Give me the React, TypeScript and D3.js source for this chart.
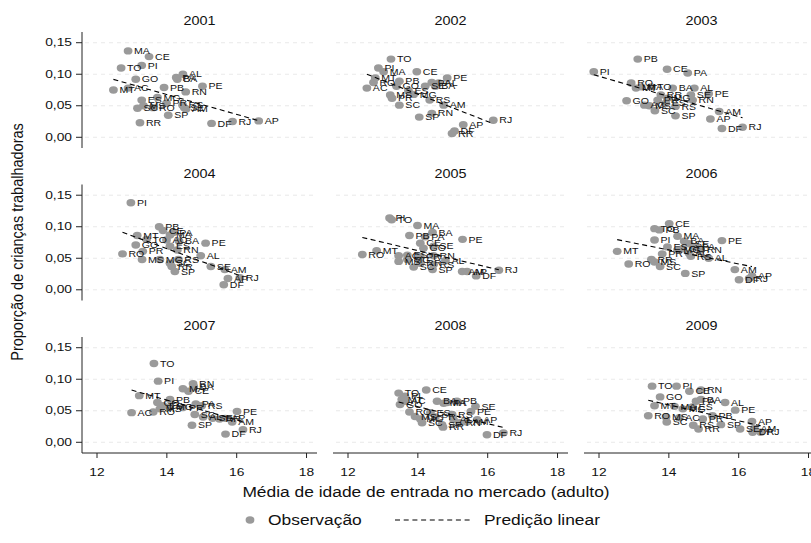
import React from 'react';
import * as d3 from 'd3';

const states = ['AC', 'AL', 'AP', 'AM', 'BA', 'CE', 'DF', 'ES', 'GO', 'MA', 'MT', 'MS', 'MG', 'PA',
  'PB', 'PR', 'PE', 'PI', 'RJ', 'RN', 'RS', 'RO', 'RR', 'SC', 'SP', 'SE', 'TO'];

const years = [2001, 2002, 2003, 2004, 2005, 2006, 2007, 2008, 2009];

// average age of entry (x) and share of working children (y), in state order
const x2001 = [12.89, 14.46, 16.63, 14.55, 14.30, 13.49, 15.28, 13.28, 13.11, 12.89, 12.47, 13.33, 13.73, 14.27, 13.92, 13.99, 15.02, 13.28, 15.88, 14.54, 14.45, 13.60, 13.23, 13.16, 14.04, 14.50, 12.69];
const y2001 = [0.078, 0.100, 0.026, 0.045, 0.092, 0.128, 0.022, 0.059, 0.092, 0.137, 0.075, 0.050, 0.063, 0.095, 0.079, 0.054, 0.081, 0.114, 0.025, 0.072, 0.051, 0.047, 0.023, 0.046, 0.035, 0.047, 0.110];
const x2002 = [12.54, 14.60, 15.30, 14.74, 14.50, 13.97, 15.05, 13.73, 13.39, 13.02, 12.78, 13.21, 13.88, 14.40, 13.47, 13.26, 14.84, 12.87, 16.16, 14.40, 14.34, 12.73, 14.98, 13.47, 14.04, 14.21, 13.23];
const y2002 = [0.078, 0.086, 0.020, 0.051, 0.081, 0.104, 0.010, 0.074, 0.081, 0.104, 0.094, 0.067, 0.068, 0.087, 0.089, 0.062, 0.094, 0.110, 0.027, 0.038, 0.059, 0.087, 0.006, 0.051, 0.032, 0.081, 0.124];
const x2003 = [13.30, 14.73, 15.19, 15.44, 14.11, 13.95, 15.52, 13.91, 12.79, 13.21, 13.06, 13.44, 13.96, 14.54, 13.11, 13.68, 15.14, 11.85, 16.11, 14.68, 14.19, 12.92, 13.77, 13.60, 14.19, 14.63, 13.49];
const y2003 = [0.051, 0.078, 0.029, 0.041, 0.078, 0.108, 0.014, 0.054, 0.058, 0.080, 0.078, 0.050, 0.062, 0.102, 0.124, 0.059, 0.069, 0.104, 0.016, 0.059, 0.049, 0.086, 0.067, 0.042, 0.034, 0.067, 0.080];
const x2004 = [13.99, 14.97, 15.75, 15.66, 14.35, 13.89, 15.63, 14.09, 13.11, 14.09, 13.15, 13.29, 13.80, 14.18, 13.78, 13.31, 15.11, 12.97, 16.09, 14.30, 14.33, 12.73, 14.14, 14.09, 14.23, 15.26, 13.42];
const y2004 = [0.079, 0.054, 0.018, 0.032, 0.077, 0.094, 0.008, 0.069, 0.071, 0.087, 0.086, 0.048, 0.048, 0.091, 0.100, 0.061, 0.074, 0.138, 0.019, 0.063, 0.048, 0.057, 0.037, 0.042, 0.029, 0.037, 0.080];
const x2005 = [13.45, 14.79, 15.41, 15.27, 14.42, 14.07, 15.67, 13.70, 14.16, 13.99, 12.82, 13.45, 13.70, 14.21, 13.76, 14.07, 15.28, 13.19, 16.32, 14.45, 14.45, 12.41, 14.07, 13.88, 14.42, 14.45, 13.25];
const y2005 = [0.054, 0.046, 0.029, 0.029, 0.091, 0.074, 0.022, 0.055, 0.066, 0.102, 0.062, 0.045, 0.048, 0.084, 0.086, 0.053, 0.080, 0.114, 0.031, 0.054, 0.040, 0.056, 0.042, 0.036, 0.032, 0.069, 0.111];
const x2006 = [14.58, 15.14, 16.38, 15.89, 14.44, 14.01, 16.01, 13.96, 14.39, 14.25, 12.52, 13.59, 14.25, 14.77, 13.73, 13.81, 15.52, 13.59, 16.30, 14.91, 14.63, 12.85, 13.50, 13.75, 14.47, 14.58, 13.59];
const y2006 = [0.058, 0.050, 0.022, 0.032, 0.077, 0.105, 0.016, 0.068, 0.065, 0.085, 0.061, 0.044, 0.063, 0.068, 0.095, 0.057, 0.078, 0.079, 0.018, 0.063, 0.053, 0.041, 0.048, 0.037, 0.026, 0.073, 0.097];
const x2007 = [12.99, 15.04, 15.67, 15.87, 14.77, 14.62, 15.68, 13.89, 13.73, 14.46, 13.21, 13.80, 14.09, 14.83, 14.09, 14.46, 16.01, 13.75, 16.18, 14.75, 15.00, 13.61, 15.51, 14.80, 14.72, 15.31, 13.63];
const y2007 = [0.047, 0.040, 0.038, 0.032, 0.088, 0.081, 0.013, 0.058, 0.063, 0.085, 0.074, 0.053, 0.056, 0.061, 0.068, 0.055, 0.049, 0.097, 0.020, 0.093, 0.058, 0.048, 0.037, 0.044, 0.027, 0.038, 0.125];
const x2008 = [13.63, 15.02, 15.70, 15.40, 14.55, 14.24, 15.98, 14.36, 13.49, 14.74, 13.54, 13.92, 14.07, 14.84, 15.12, 14.50, 15.52, 13.63, 16.45, 15.20, 14.98, 13.76, 14.72, 14.12, 14.69, 15.65, 13.45];
const y2008 = [0.065, 0.036, 0.036, 0.032, 0.065, 0.083, 0.012, 0.047, 0.060, 0.062, 0.068, 0.041, 0.037, 0.063, 0.065, 0.040, 0.049, 0.073, 0.015, 0.031, 0.044, 0.048, 0.024, 0.031, 0.028, 0.057, 0.078];
const x2009 = [14.30, 15.61, 16.38, 16.45, 14.92, 14.59, 16.40, 14.68, 13.75, 14.16, 13.59, 13.92, 14.40, 14.78, 15.25, 14.97, 15.90, 14.22, 16.63, 14.92, 14.70, 13.41, 14.85, 13.94, 15.49, 16.04, 13.52];
const y2009 = [0.039, 0.063, 0.033, 0.022, 0.068, 0.081, 0.016, 0.056, 0.072, 0.057, 0.058, 0.040, 0.053, 0.065, 0.042, 0.037, 0.051, 0.089, 0.016, 0.083, 0.027, 0.042, 0.021, 0.032, 0.028, 0.021, 0.089];

const xTicks = [12, 14, 16, 18];
const yTicks = [0, 0.05, 0.1, 0.15];

const xs = [x2001, x2002, x2003, x2004, x2005, x2006, x2007, x2008, x2009];
const ys = [y2001, y2002, y2003, y2004, y2005, y2006, y2007, y2008, y2009];

const width = 811;
const height = 543;
const colLeft = [82, 333, 584];
const rowTop = [32, 184.5, 337];
const panelW = 235;
const panelH = 116;
const font = '"Liberation Sans", Arial, Helvetica, sans-serif';
const SX = 1.2; // text in the picture is horizontally stretched
const pointColor = '#9a9a9a';

const fmt = (v: number) => d3.format('.2f')(v).replace('.', ',');

const T = ({ x, y, size, anchor = 'start', baseline, children }: any) => (
  <text
    transform={`translate(${x},${y}) scale(${SX},1)`}
    fontSize={size}
    textAnchor={anchor}
    dominantBaseline={baseline}
    fill="#111"
  >
    {children}
  </text>
);

function fit(px: number[], py: number[]) {
  const mx = d3.mean(px)!;
  const my = d3.mean(py)!;
  let sxy = 0;
  let sxx = 0;
  px.forEach((v, i) => {
    sxy += (v - mx) * (py[i] - my);
    sxx += (v - mx) * (v - mx);
  });
  const b = sxy / sxx;
  const a = my - b * mx;
  const [lo, hi] = d3.extent(px) as [number, number];
  return [[lo, a + b * lo], [hi, a + b * hi]];
}

const Panel = ({ idx }: { idx: number }) => {
  const col = idx % 3;
  const row = Math.floor(idx / 3);
  const left = colLeft[col];
  const top = rowTop[row];
  const x = d3.scaleLinear().domain([11.57, 18.3]).range([left, left + panelW]);
  const y = d3.scaleLinear().domain([-0.017, 0.167]).range([top + panelH, top]);
  const px = xs[idx];
  const py = ys[idx];
  const line = d3.line<number[]>().x(d => x(d[0])).y(d => y(d[1]));

  return (
    <g>
      <T x={left + panelW / 2} y={top - 7} size={12} anchor="middle">{years[idx]}</T>
      {yTicks.map(t => (
        <line key={t} x1={left + 3} x2={left + panelW} y1={y(t)} y2={y(t)}
          stroke="#e3e3e3" strokeWidth={0.8} strokeDasharray="4,4" />
      ))}
      {col === 0 && (
        <g>
          <line x1={left} x2={left} y1={top} y2={top + panelH} stroke="#222" />
          {yTicks.map(t => (
            <g key={t}>
              <line x1={left - 6} x2={left} y1={y(t)} y2={y(t)} stroke="#222" />
              <T x={left - 10} y={y(t)} size={11.5} anchor="end" baseline="central">{fmt(t)}</T>
            </g>
          ))}
        </g>
      )}
      {row === 2 && (
        <g>
          <line x1={left} x2={left + panelW} y1={top + panelH} y2={top + panelH} stroke="#222" />
          {xTicks.map(t => (
            <g key={t}>
              <line x1={x(t)} x2={x(t)} y1={top + panelH} y2={top + panelH + 5} stroke="#222" />
              <T x={x(t)} y={top + panelH + 23} size={11.5} anchor="middle">{t}</T>
            </g>
          ))}
        </g>
      )}
      {states.map((s, i) => (
        <ellipse key={s} cx={x(px[i])} cy={y(py[i])} rx={4.4} ry={3.7} fill={pointColor} />
      ))}
      {states.map((s, i) => (
        <T key={s} x={x(px[i]) + 6} y={y(py[i])} size={8.8} baseline="central">{s}</T>
      ))}
      <path d={line(fit(px, py))!} fill="none" stroke="#000" strokeWidth={1.1} strokeDasharray="5,3.5" />
    </g>
  );
};

export default function App() {
  return (
    <svg width={width} height={height} fontFamily={font}
      style={{ position: 'absolute', left: 0, top: 0, background: '#fff' }}>
      <rect width={width} height={height} fill="#fff" />
      {years.map((yr, i) => <Panel key={yr} idx={i} />)}
      <text transform={`translate(23,242) rotate(-90) scale(1,${SX})`} fontSize={14.5}
        textAnchor="middle" fill="#111">Proporção de crianças trabalhadoras</text>
      <T x={426} y={497} size={14.5} anchor="middle">Média de idade de entrada no mercado (adulto)</T>
      <ellipse cx={250} cy={520} rx={4.4} ry={3.7} fill={pointColor} />
      <T x={268} y={525} size={14.5}>Observação</T>
      <line x1={395} x2={473} y1={520} y2={520} stroke="#000" strokeWidth={1.1} strokeDasharray="5,3.7" />
      <T x={484} y={525} size={14.5}>Predição linear</T>
    </svg>
  );
}
